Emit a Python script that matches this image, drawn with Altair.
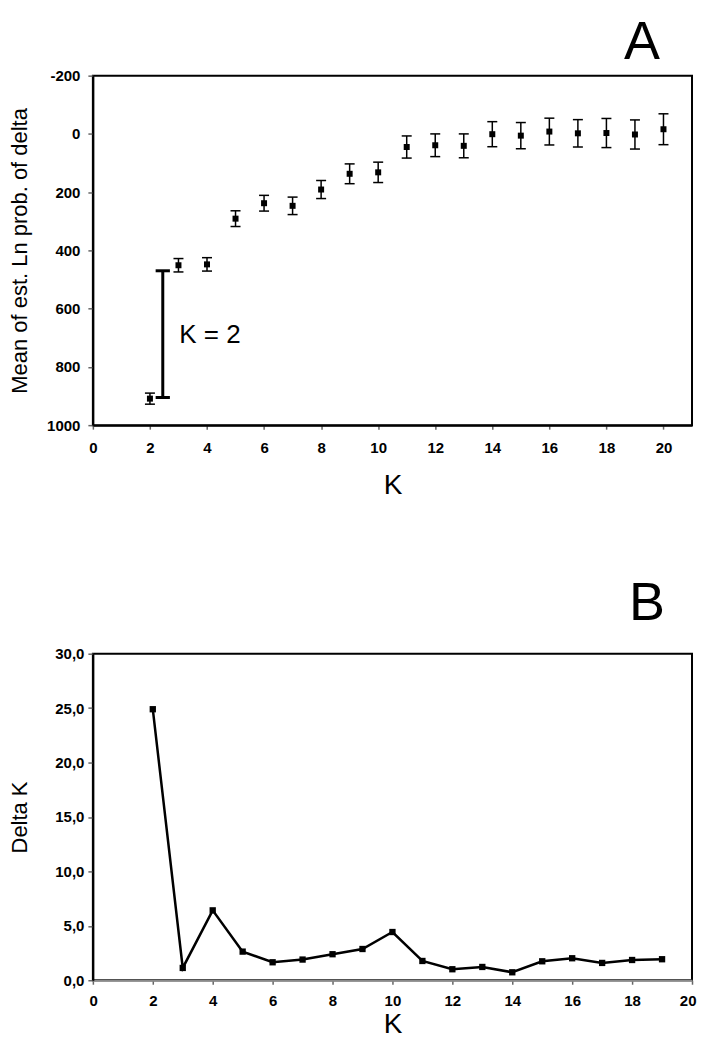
import altair as alt
import pandas as pd

# ---------------- data ----------------
k_a = list(range(2, 21))
mean_a = [909, 451, 448, 291, 238, 247, 191, 137, 132, 45, 39, 41, 1, 6, -8, -2, -3, 2, -16]
err_a = [19, 23, 23, 27, 27, 30, 31, 34, 35, 38, 39, 41, 43, 45, 46, 47, 50, 50, 53]

k_b = list(range(2, 20))
delta_b = [24.9, 1.13, 6.42, 2.63, 1.65, 1.9, 2.39, 2.87, 4.43, 1.77, 1.01, 1.22, 0.73,
           1.74, 2.02, 1.59, 1.86, 1.93]

a_y_ticks = [-200, 0, 200, 400, 600, 800, 1000]
b_y_ticks = [0, 5, 10, 15, 20, 25, 30]
x_ticks = [0, 2, 4, 6, 8, 10, 12, 14, 16, 18, 20]

# annotation "K = 2" bracket (data coordinates of panel A)
bracket_x = [2.45]
bracket_y = [470]
bracket_y2 = [905]
cap_x = [2.2, 2.2]
cap_x2 = [2.7, 2.7]
cap_y = [470, 905]
annot_x = [3.03]
annot_y = [690]

FONT = "Liberation Sans"
W = 600
HA = 350
HB = 327

df_a = pd.DataFrame({"K": k_a, "mean": mean_a, "err": err_a})
df_a["lo"] = df_a["mean"] - df_a["err"]
df_a["hi"] = df_a["mean"] + df_a["err"]
df_b = pd.DataFrame({"K": k_b, "delta": delta_b})
df_br = pd.DataFrame({"x": bracket_x, "y": bracket_y, "y2": bracket_y2})
df_cap = pd.DataFrame({"x": cap_x, "x2": cap_x2, "y": cap_y})
df_txt = pd.DataFrame({"x": annot_x, "y": annot_y})
df_one = pd.DataFrame({"v": [0]})


def x_axis(domain_color, label_pad, title_pad, flush):
    return alt.Axis(values=x_ticks, title="K", format="d", labelFlush=flush,
                    labelFlushOffset=4,
                    labelFont=FONT, labelFontSize=15, labelFontWeight="bold",
                    labelColor="black", labelPadding=label_pad,
                    titleFont=FONT, titleFontSize=28, titleFontWeight="normal",
                    titleColor="black", titlePadding=title_pad,
                    domainColor=domain_color, domainWidth=2,
                    tickColor="#666666", tickWidth=1.5, tickSize=4, grid=False)


xsc_a = alt.Scale(domain=[0, 21], nice=False, zero=False)
ysc_a = alt.Scale(domain=[-200, 1000], reverse=True, nice=False, zero=False)
ax_a_y = alt.Axis(values=a_y_ticks, labelExpr="'' + datum.value",
                  title="Mean of est. Ln prob. of delta",
                  labelFlush=False, labelFont=FONT, labelFontSize=15,
                  labelFontWeight="bold", labelColor="black", labelPadding=8,
                  titleFont=FONT, titleFontSize=22, titleFontWeight="normal",
                  titleColor="black", titleX=-61,
                  domainColor="black", domainWidth=2,
                  tickColor="#666666", tickWidth=1.5, tickSize=5, grid=False)
ax_a_x = x_axis("black", 11, 16, False)


def XA(field):
    return alt.X(field, type="quantitative", scale=xsc_a, axis=ax_a_x)


def YA(field):
    return alt.Y(field, type="quantitative", scale=ysc_a, axis=ax_a_y)


base_a = alt.Chart(df_a)
bars_a = base_a.mark_rule(color="black", strokeWidth=1.5).encode(
    x=XA("K"), y=YA("lo"), y2="hi")
cap_lo = base_a.mark_tick(color="black", orient="horizontal", size=10,
                          thickness=1.5, opacity=1).encode(x=XA("K"), y=YA("lo"))
cap_hi = base_a.mark_tick(color="black", orient="horizontal", size=10,
                          thickness=1.5, opacity=1).encode(x=XA("K"), y=YA("hi"))
pts_a = base_a.mark_square(color="black", size=36, opacity=1).encode(
    x=XA("K"), y=YA("mean"))
br_line = alt.Chart(df_br).mark_rule(color="black", strokeWidth=3).encode(
    x=XA("x"), y=YA("y"), y2="y2")
br_caps = alt.Chart(df_cap).mark_rule(color="black", strokeWidth=3).encode(
    x=XA("x"), x2="x2", y=YA("y"))
br_text = alt.Chart(df_txt).mark_text(text="K = 2", align="left", baseline="middle",
                                      font=FONT, fontSize=26, color="black").encode(
    x=XA("x"), y=YA("y"))
letter_a = alt.Chart(df_one).mark_text(text="A", align="center", baseline="alphabetic",
                                       font=FONT, fontSize=54, color="black").encode(
    x=alt.value(550), y=alt.value(-17))

panel_a = alt.layer(bars_a, cap_lo, cap_hi, pts_a, br_line, br_caps, br_text,
                    letter_a).properties(width=W, height=HA)

# ---------------- panel B ----------------
xsc_b = alt.Scale(domain=[0, 20], nice=False, zero=False)
ysc_b = alt.Scale(domain=[0, 30], nice=False, zero=True)
ax_b_y = alt.Axis(values=b_y_ticks, title="Delta K",
                  labelExpr="replace(format(datum.value, '.1f'), '.', ',')",
                  labelFlush=False, labelFont=FONT, labelFontSize=15,
                  labelFontWeight="bold", labelColor="black", labelPadding=4,
                  titleFont=FONT, titleFontSize=22, titleFontWeight="normal",
                  titleColor="black", titleX=-61,
                  domainColor="black", domainWidth=2,
                  tickColor="#666666", tickWidth=1.5, tickSize=5, grid=False)
ax_b_x = x_axis("#8a8a8a", 9, 2, True)

xb = alt.X("K:Q", scale=xsc_b, axis=ax_b_x)
yb = alt.Y("delta:Q", scale=ysc_b, axis=ax_b_y)
line_b = alt.Chart(df_b).mark_line(color="black", strokeWidth=2.5).encode(x=xb, y=yb)
pts_b = alt.Chart(df_b).mark_square(color="black", size=40, opacity=1).encode(x=xb, y=yb)
letter_b = alt.Chart(df_one).mark_text(text="B", align="center", baseline="alphabetic",
                                       font=FONT, fontSize=54, color="black").encode(
    x=alt.value(555), y=alt.value(-33.3))

panel_b = alt.layer(line_b, pts_b, letter_b).properties(width=W, height=HB)

chart = alt.vconcat(panel_a, panel_b, spacing=75.9).properties(
    padding={"top": 6, "left": 0, "right": 0, "bottom": 0}, background="white"
).configure_view(stroke="black", strokeWidth=2)

chart.save("out.html", embed_options={"renderer": "svg", "actions": False})
